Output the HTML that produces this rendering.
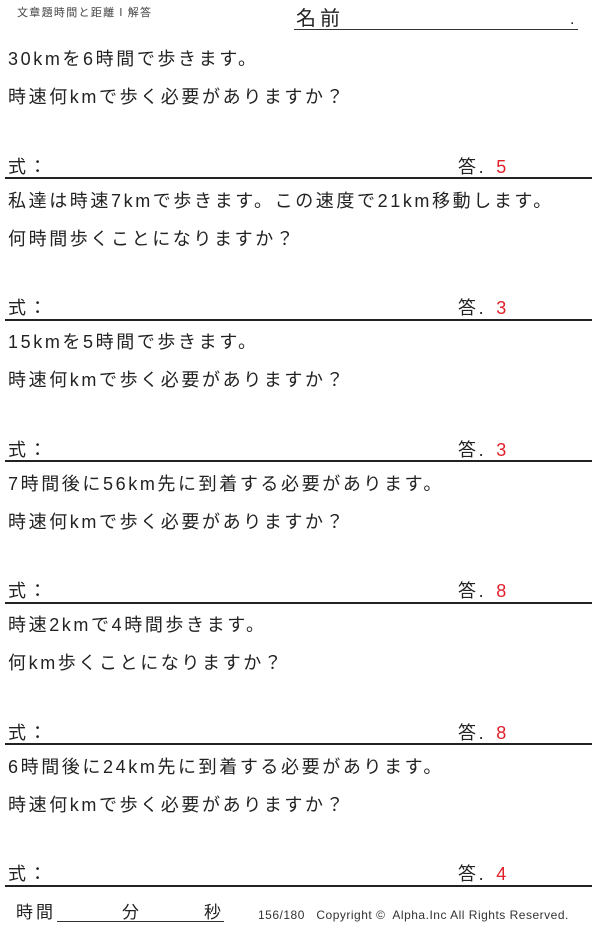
<!DOCTYPE html>
<html><head><meta charset="utf-8"><style>
body{margin:0;width:600px;height:928px;background:#fff;position:relative;font-family:"Liberation Sans","Noto Sans CJK JP",sans-serif;color:#222;overflow:hidden}
.t{position:absolute;white-space:nowrap;font-size:18px;line-height:20px;letter-spacing:2.6px}
.r{position:absolute;left:5px;width:587px;height:2px;background:#222}
.a{color:#e0202a;margin-left:10px}
</style></head><body>
<div class="t" style="left:17px;top:6px;font-size:11px;line-height:14px;color:#444;letter-spacing:1.3px">文章題時間と距離Ⅰ解答</div>
<div class="t" style="left:296px;top:8px;font-size:20px;line-height:22px;letter-spacing:4px">名前</div>
<div class="t" style="left:570px;top:10px;font-size:16px">.</div>
<div style="position:absolute;left:294px;top:29px;width:284px;height:1px;background:#333"></div>

<div class="t" style="left:8px;top:49px">30kmを6時間で歩きます。</div>
<div class="t" style="left:8px;top:87px">時速何kmで歩く必要がありますか？</div>
<div class="t" style="left:8px;top:157px">式：</div>
<div class="t" style="left:458px;top:157px">答.<span class="a">5</span></div>
<div class="r" style="top:177px"></div>

<div class="t" style="left:8px;top:191px">私達は時速7kmで歩きます。この速度で21km移動します。</div>
<div class="t" style="left:8px;top:229px">何時間歩くことになりますか？</div>
<div class="t" style="left:8px;top:298px">式：</div>
<div class="t" style="left:458px;top:298px">答.<span class="a">3</span></div>
<div class="r" style="top:319px"></div>

<div class="t" style="left:8px;top:332px">15kmを5時間で歩きます。</div>
<div class="t" style="left:8px;top:370px">時速何kmで歩く必要がありますか？</div>
<div class="t" style="left:8px;top:440px">式：</div>
<div class="t" style="left:458px;top:440px">答.<span class="a">3</span></div>
<div class="r" style="top:460px"></div>

<div class="t" style="left:8px;top:474px">7時間後に56km先に到着する必要があります。</div>
<div class="t" style="left:8px;top:512px">時速何kmで歩く必要がありますか？</div>
<div class="t" style="left:8px;top:581px">式：</div>
<div class="t" style="left:458px;top:581px">答.<span class="a">8</span></div>
<div class="r" style="top:602px"></div>

<div class="t" style="left:8px;top:615px">時速2kmで4時間歩きます。</div>
<div class="t" style="left:8px;top:653px">何km歩くことになりますか？</div>
<div class="t" style="left:8px;top:723px">式：</div>
<div class="t" style="left:458px;top:723px">答.<span class="a">8</span></div>
<div class="r" style="top:743px"></div>

<div class="t" style="left:8px;top:757px">6時間後に24km先に到着する必要があります。</div>
<div class="t" style="left:8px;top:795px">時速何kmで歩く必要がありますか？</div>
<div class="t" style="left:8px;top:864px">式：</div>
<div class="t" style="left:458px;top:864px">答.<span class="a">4</span></div>
<div class="r" style="top:885px"></div>

<div class="t" style="left:16px;top:903px;font-size:17px;letter-spacing:3px">時間</div>
<div class="t" style="left:122px;top:903px;font-size:17px">分</div>
<div class="t" style="left:204px;top:903px;font-size:17px">秒</div>
<div style="position:absolute;left:57px;top:921px;width:167px;height:1px;background:#333"></div>
<div class="t" style="left:258px;top:908px;font-size:12px;line-height:14px;color:#333;letter-spacing:0.5px">156/180 &nbsp; Copyright ©&nbsp; Alpha.Inc All Rights Reserved.</div>
</body></html>
